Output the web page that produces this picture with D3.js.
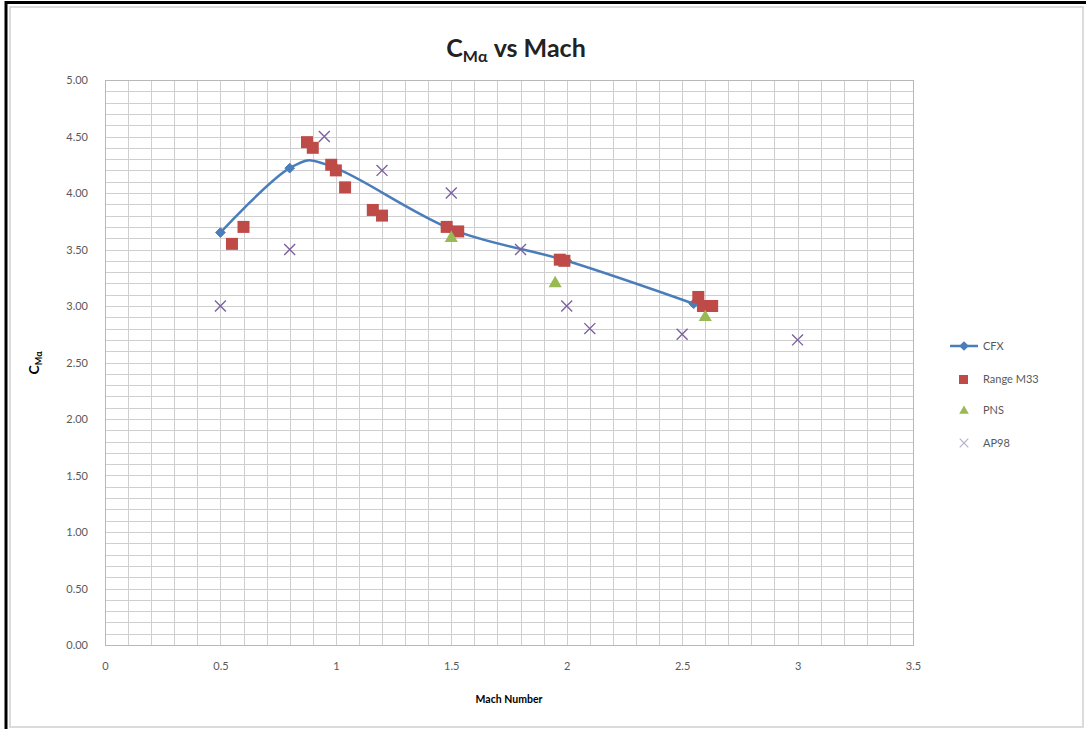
<!DOCTYPE html>
<html>
<head>
<meta charset="utf-8">
<script src="https://cdn.jsdelivr.net/npm/d3@7"></script>
<style>
  html, body { margin: 0; padding: 0; background: #fff; }
  svg { display: block; }
  text { font-family: Lato, "Open Sans", sans-serif; }
</style>
</head>
<body>
<svg id="chart" width="1086" height="729"></svg>
<script>
// ---- data ----
const cfxMach = [0.5, 0.8, 1.0, 1.5, 2.0, 2.55];
const cfxCm   = [3.65, 4.22, 4.22, 3.68, 3.40, 3.02];

const m33Mach = [0.55, 0.60, 0.875, 0.90, 0.98, 1.00, 1.04, 1.16, 1.20, 1.48, 1.53, 1.97, 1.99, 2.57, 2.59, 2.63];
const m33Cm   = [3.55, 3.70, 4.45, 4.40, 4.25, 4.20, 4.05, 3.85, 3.80, 3.70, 3.66, 3.41, 3.40, 3.08, 3.00, 3.00];

const pnsMach = [1.50, 1.95, 2.60];
const pnsCm   = [3.60, 3.20, 2.90];

const apMach = [0.5, 0.8, 0.95, 1.2, 1.5, 1.8, 2.0, 2.1, 2.5, 3.0];
const apCm   = [3.0, 3.5, 4.5, 4.2, 4.0, 3.5, 3.0, 2.8, 2.75, 2.7];

const xTicks = [0, 0.5, 1, 1.5, 2, 2.5, 3, 3.5];
const yTicks = [0, 0.5, 1, 1.5, 2, 2.5, 3, 3.5, 4, 4.5, 5];
const legendNames = ["CFX", "Range M33", "PNS", "AP98"];

// ---- style ----
const colCFX = "#4A7EBB", colM33 = "#BE4B48", colPNS = "#98B954", colAP = "#7D60A0";
const plot = {left: 105, right: 913, top: 80, bottom: 645};

const svg = d3.select("#chart");

// frame
svg.append("rect").attr("x", 10).attr("y", 7).attr("width", 1073).attr("height", 720)
  .attr("fill", "#fff").attr("stroke", "#d0d0d0").attr("stroke-width", 1.5);
svg.append("line").attr("x1", 5).attr("x2", 1086).attr("y1", 2.5).attr("y2", 2.5)
  .attr("stroke", "#000").attr("stroke-width", 3);
svg.append("line").attr("x1", 6).attr("x2", 6).attr("y1", 1).attr("y2", 729)
  .attr("stroke", "#000").attr("stroke-width", 3);

const x = d3.scaleLinear().domain([0, 3.5]).range([plot.left, plot.right]);
const y = d3.scaleLinear().domain([0, 5]).range([plot.bottom, plot.top]);

// minor grid
const g = svg.append("g");
const xMinor = d3.range(0, 3.5001, 0.1);
const yMinor = d3.range(0, 5.0001, 0.1);
g.selectAll("line.vx").data(xMinor).join("line")
  .attr("x1", d => Math.round(x(d)) + 0.5).attr("x2", d => Math.round(x(d)) + 0.5)
  .attr("y1", plot.top).attr("y2", plot.bottom)
  .attr("stroke", "#cfcfcf").attr("stroke-width", 1);
g.selectAll("line.hy").data(yMinor).join("line")
  .attr("y1", d => Math.round(y(d)) + 0.5).attr("y2", d => Math.round(y(d)) + 0.5)
  .attr("x1", plot.left).attr("x2", plot.right)
  .attr("stroke", "#cfcfcf").attr("stroke-width", 1);
g.append("rect").attr("x", plot.left + 0.5).attr("y", plot.top + 0.5)
  .attr("width", plot.right - plot.left).attr("height", plot.bottom - plot.top)
  .attr("fill", "none").attr("stroke", "#b8b8b8");

// axes labels
const xAxis = d3.axisBottom(x).tickValues(xTicks).tickSize(0).tickPadding(17).tickFormat(d3.format(""));
const xg = svg.append("g").attr("transform", `translate(0,${plot.bottom})`).call(xAxis);
xg.select(".domain").remove();
xg.selectAll("text").attr("font-size", 11).attr("fill", "#595959");

const yAxis = d3.axisLeft(y).tickValues(yTicks).tickSize(0).tickPadding(17).tickFormat(d3.format(".2f"));
const yg = svg.append("g").attr("transform", `translate(${plot.left},0)`).call(yAxis);
yg.select(".domain").remove();
yg.selectAll("text").attr("font-size", 11).attr("fill", "#595959");

// title
const title = svg.append("text").attr("x", 516).attr("y", 57).attr("text-anchor", "middle")
  .attr("font-size", 25).attr("font-weight", "bold").attr("fill", "#222");
title.append("tspan").text("C");
title.append("tspan").attr("font-size", 16).attr("dy", 5).text("Mα");
title.append("tspan").attr("dy", -5).text(" vs Mach");

// y axis title
const yt = svg.append("text").attr("transform", "translate(39,363) rotate(-90)")
  .attr("text-anchor", "middle").attr("font-size", 14).attr("font-weight", "bold").attr("fill", "#000");
yt.append("tspan").text("C");
yt.append("tspan").attr("font-size", 9).attr("dy", 3).text("Mα");

// x axis title
svg.append("text").attr("x", 509).attr("y", 703).attr("text-anchor", "middle")
  .attr("font-size", 10.5).attr("font-weight", "bold").attr("fill", "#000").text("Mach Number");

// CFX line
const cfxData = cfxMach.map((m, i) => [m, cfxCm[i]]);
const line = d3.line().x(d => x(d[0])).y(d => y(d[1])).curve(d3.curveCatmullRom.alpha(0));
svg.append("path").datum(cfxData).attr("d", line).attr("fill", "none")
  .attr("stroke", colCFX).attr("stroke-width", 2.5);
const diamond = d3.symbol().type(d3.symbolDiamond2).size(60);
svg.selectAll("path.cfx").data(cfxData).join("path").attr("class", "cfx")
  .attr("transform", d => `translate(${x(d[0])},${y(d[1])})`)
  .attr("d", diamond).attr("fill", colCFX).attr("stroke", colCFX);

// M33 squares
const m33Data = m33Mach.map((m, i) => [m, m33Cm[i]]);
const sq = 12;
svg.selectAll("rect.m33").data(m33Data).join("rect").attr("class", "m33")
  .attr("x", d => x(d[0]) - sq / 2).attr("y", d => y(d[1]) - sq / 2)
  .attr("width", sq).attr("height", sq).attr("fill", colM33);

// PNS triangles
const pnsData = pnsMach.map((m, i) => [m, pnsCm[i]]);
const tri = d3.symbol().type(d3.symbolTriangle).size(75);
svg.selectAll("path.pns").data(pnsData).join("path").attr("class", "pns")
  .attr("transform", d => `translate(${x(d[0])},${y(d[1])})`)
  .attr("d", tri).attr("fill", colPNS);

// AP98 crosses
const apData = apMach.map((m, i) => [m, apCm[i]]);
const cross = d3.symbol().type(d3.symbolTimes).size(80);
svg.selectAll("path.ap").data(apData).join("path").attr("class", "ap")
  .attr("transform", d => `translate(${x(d[0])},${y(d[1])})`)
  .attr("d", cross).attr("fill", "none").attr("stroke", colAP).attr("stroke-width", 1.4);

// legend
const lg = svg.append("g");
const lx = 950, ly = [346, 379, 410, 443];
lg.append("line").attr("x1", lx).attr("x2", lx + 28).attr("y1", ly[0]).attr("y2", ly[0])
  .attr("stroke", colCFX).attr("stroke-width", 2.5);
lg.append("path").attr("transform", `translate(${lx + 14},${ly[0]})`).attr("d", diamond)
  .attr("fill", colCFX);
lg.append("rect").attr("x", lx + 9).attr("y", ly[1] - 4).attr("width", 9).attr("height", 9).attr("fill", colM33);
lg.append("path").attr("transform", `translate(${lx + 14},${ly[2] + 1})`)
  .attr("d", d3.symbol().type(d3.symbolTriangle).size(40)).attr("fill", colPNS);
lg.append("path").attr("transform", `translate(${lx + 14},${ly[3]})`)
  .attr("d", d3.symbol().type(d3.symbolTimes).size(50)).attr("fill", "none")
  .attr("stroke", "#b8aecb").attr("stroke-width", 1.2);
lg.selectAll("text").data(legendNames).join("text")
  .attr("x", lx + 33).attr("y", (d, i) => ly[i] + 4)
  .attr("font-size", 11).attr("fill", "#595959").text(d => d);
</script>
</body>
</html>
